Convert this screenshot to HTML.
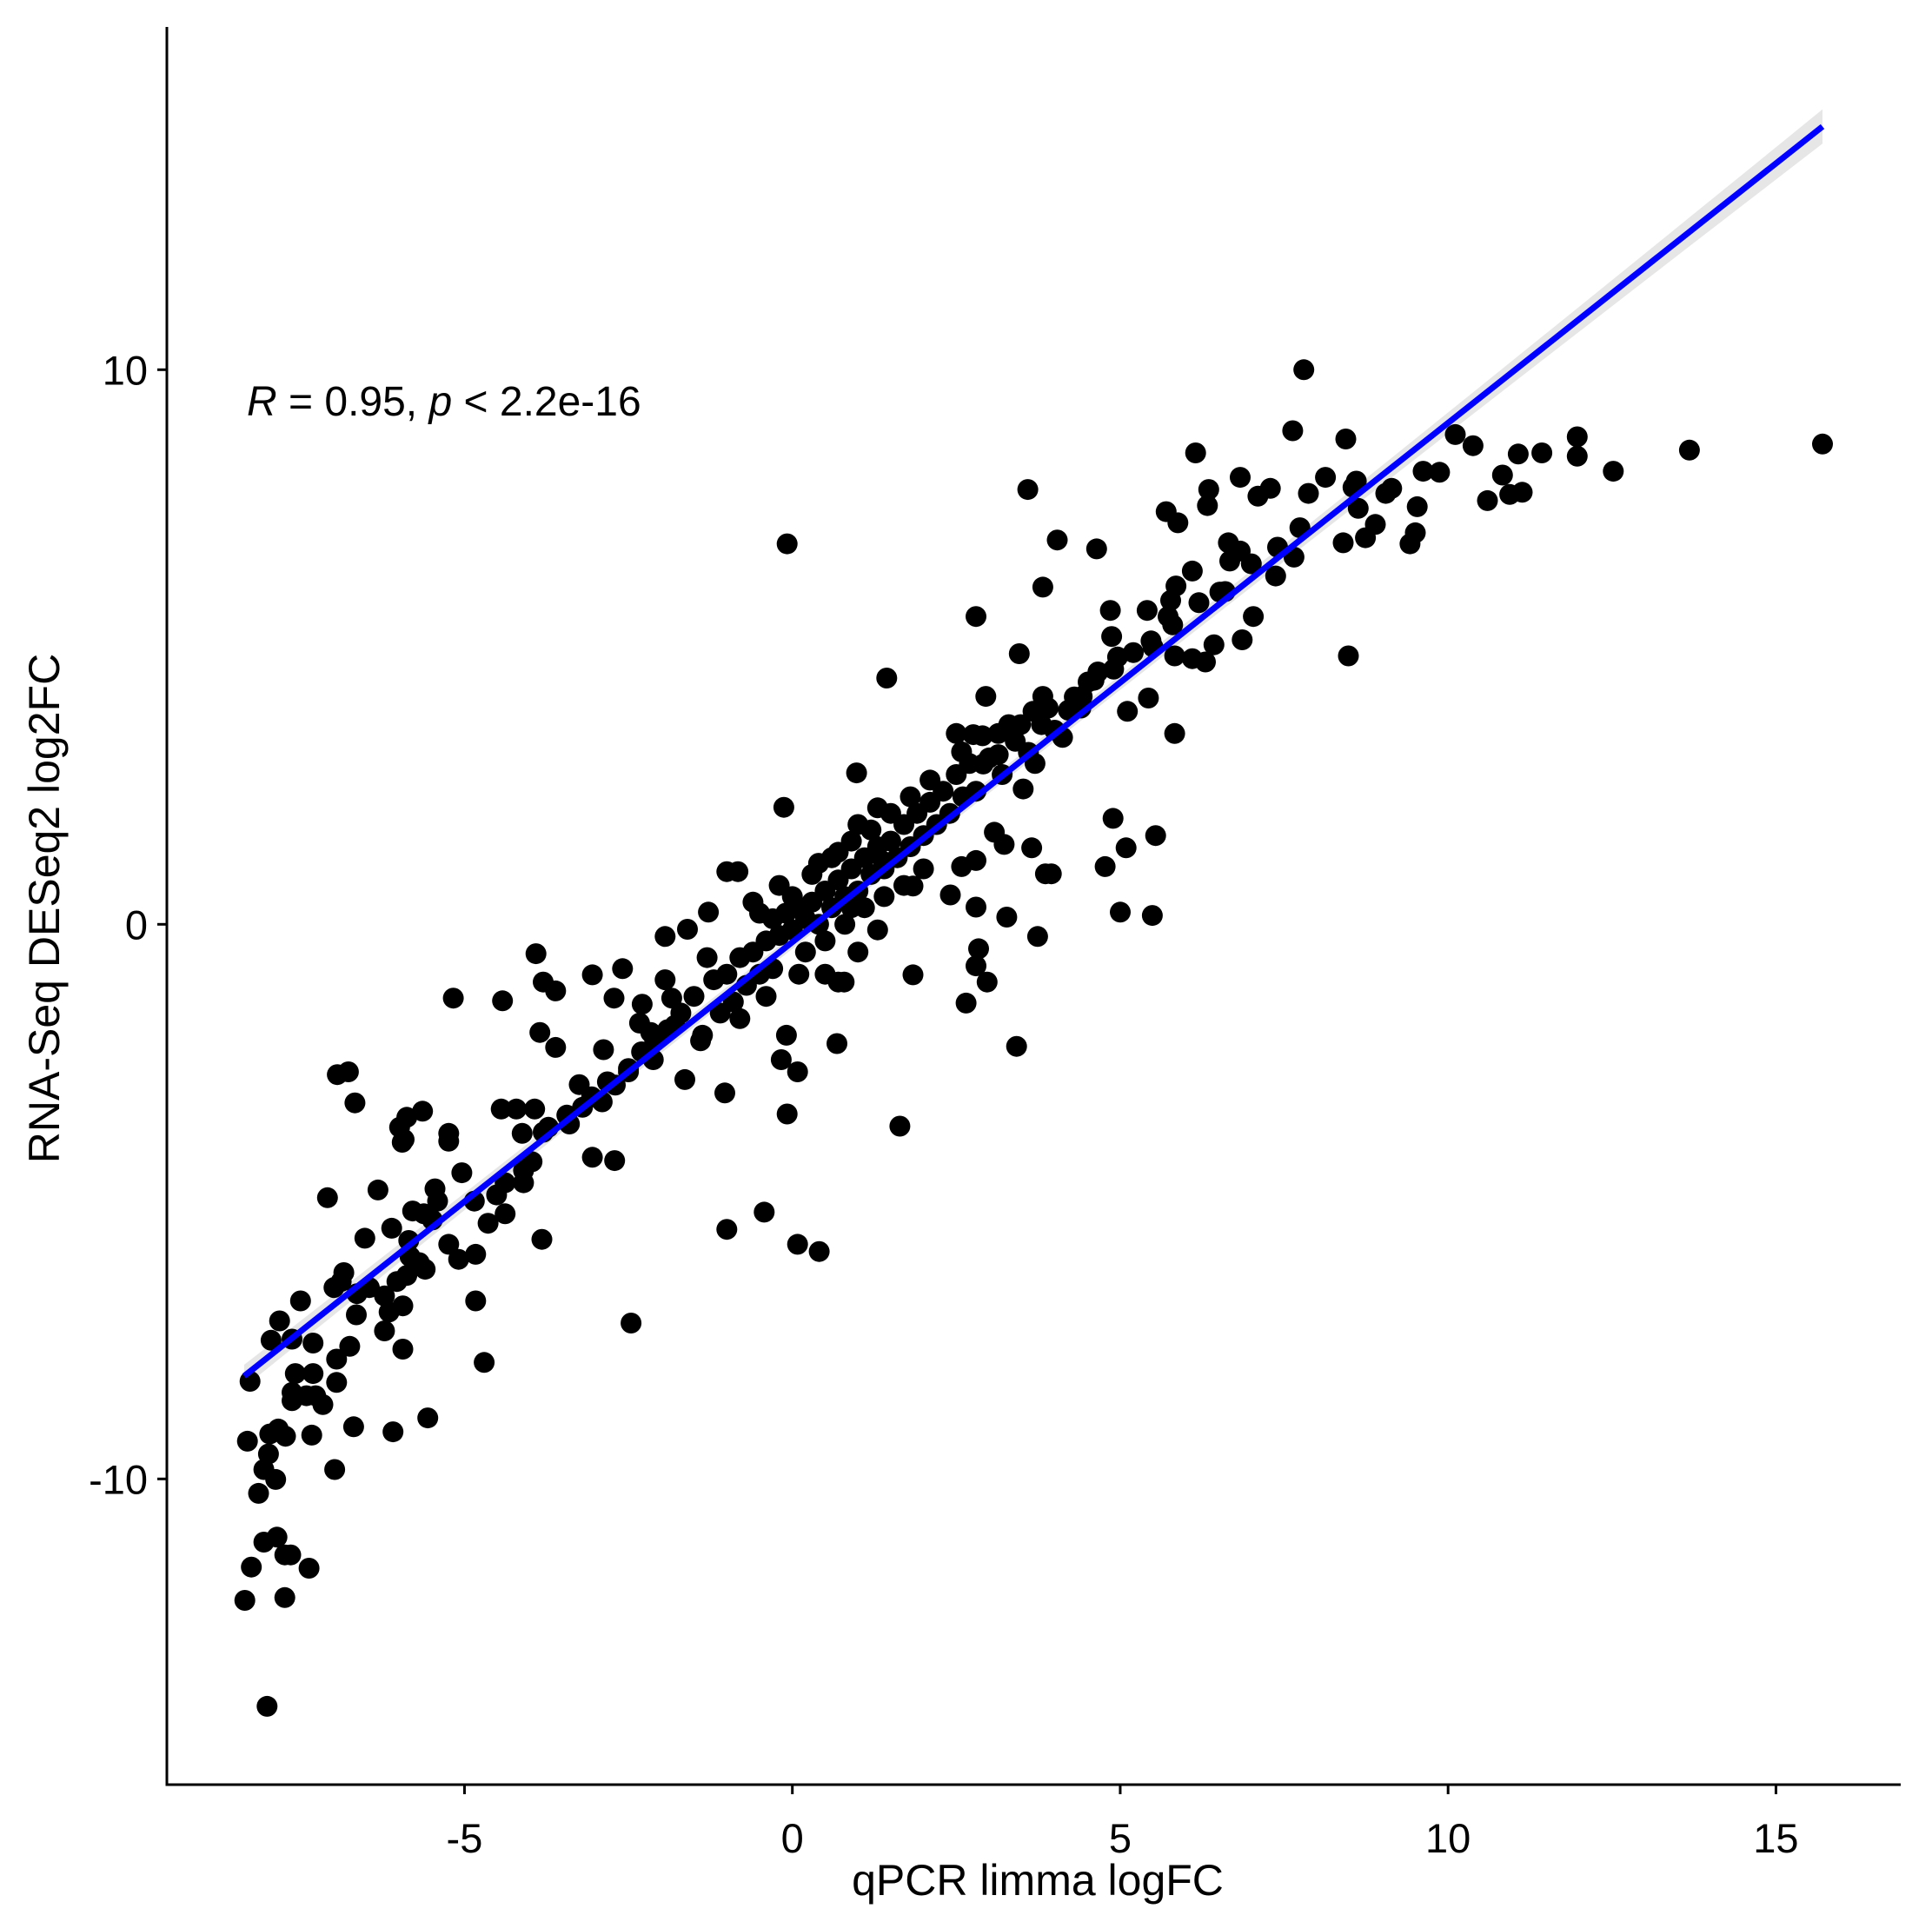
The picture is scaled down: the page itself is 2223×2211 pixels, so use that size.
<!DOCTYPE html>
<html><head><meta charset="utf-8"><style>
html,body{margin:0;padding:0;background:#fff;}
svg{display:block;font-family:"Liberation Sans",Arial,sans-serif;}
</style></head><body>
<svg id="chart" width="2223" height="2211" viewBox="0 0 2223 2211" xmlns="http://www.w3.org/2000/svg">
<rect x="0" y="0" width="2223" height="2211" fill="#fff"/>
<g id="band"></g>
<g id="points"></g>
<g id="fit"></g>
<g id="axes"></g>
<text x="284" y="478" font-size="48"><tspan font-style="italic">R</tspan> = 0.95, <tspan font-style="italic">p</tspan> &lt; 2.2e-16</text>
<text x="1194" y="2180" font-size="50" text-anchor="middle">qPCR limma logFC</text>
<text x="0" y="0" font-size="50" text-anchor="middle" transform="translate(68,1045) rotate(-90)">RNA-Seq DESeq2 log2FC</text>
</svg>
<script>
const xTicks = [-5, 0, 5, 10, 15];
const yTicks = [-10, 0, 10];
const xTickLabels = ["-5", "0", "5", "10", "15"];
const yTickLabels = ["-10", "0", "10"];
const fitSlope = 0.936;
const fitIntercept = -0.32;
const fitRange = [-8.36, 15.71];
const px = [7.8,7.63,6.15,8.44,10.11,10.38,11.97,11.97,13.68,15.71,12.52,11.43,11.07,10.83,11.13,10.94,10.6,9.62,9.87,9.53,9.14,9.05,8.55,8.6,8.13,7.87,7.29,7.1,6.83,6.35,6.33,5.7,5.88,3.59,-0.08,4.04,4.64,3.82,8.63,8.89,8.74,8.4,9.5,9.42,7.74,7.65,6.83,6.65,6.67,7.37,7.03,8.48,6.1,5.85,6.52,6.86,6.43,6.1,6.3,5.77,5.73,5.41,4.85,4.87,5.47,5.83,4.96,5.43,5.11,5.83,4.51,4.66,4.42,4.21,4.12,3.82,3.67,3.46,2.8,2.95,1.44,3.48,3.52,3.14,2.76,2.5,2.91,3.14,2.58,0.98,-0.13,4.89,5.54,5.09,4.77,3.65,3.95,3.86,5.0,5.49,3.74,3.27,2.8,2.58,2.8,3.23,3.08,2.41,1.84,1.39,2.84,2.8,2.97,2.65,3.42,1.84,0.79,0.7,0.68,1.64,-0.09,-0.17,0.08,-0.08,-1.03,-1.0,-0.43,0.08,0.41,-2.46,-3.82,-4.7,-4.83,-5.17,-4.42,-3.91,-3.8,-3.61,-3.05,-2.59,-2.72,-3.85,-3.61,-2.88,-3.05,-2.71,-2.29,-1.94,-1.84,-1.94,-1.6,-1.28,-0.83,-2.33,-2.16,-1.79,-1.37,-1.64,-2.12,-2.5,-2.82,-3.25,-3.06,-3.44,-3.72,-3.93,-4.21,-4.44,-4.12,-3.8,-3.97,-4.1,-4.1,-4.38,-4.51,-4.38,-4.64,-4.85,-5.04,-5.24,-5.24,-5.64,-5.88,-5.99,-5.95,-5.92,-5.45,-5.41,-5.49,-5.62,-5.79,-6.11,-5.85,-5.83,-5.6,-5.69,-5.88,-6.03,-5.24,-5.09,-4.83,-6.32,-6.52,-6.67,-6.77,-6.94,-7.09,-6.84,-6.88,-6.99,-6.64,-6.45,-6.22,-6.15,-5.94,-5.94,-6.22,-6.65,-6.75,-6.95,-7.5,-7.82,-7.95,-7.63,-7.31,-6.95,-7.31,-7.58,-7.63,-7.63,-7.41,-7.16,-7.27,-8.27,-7.84,-7.97,-7.73,-7.33,-8.31,-7.99,-8.06,-8.14,-7.88,-6.98,-6.69,-6.09,-5.56,-8.06,-7.86,-7.74,-7.65,-7.37,-8.25,-8.35,-7.74,-8.01,-1.0,
-1.5,-1.2,-1.0,-0.8,-0.6,-0.5,-0.4,-0.3,-0.2,-0.1,0,0.1,0.2,0.3,0.4,0.5,0.6,0.7,0.8,0.9,1.0,1.1,1.2,1.3,1.4,1.5,1.6,1.7,1.8,1.9,2.0,2.1,2.2,2.3,2.4,2.5,2.6,2.7,2.8,3.0,3.2,3.4,3.6,3.8,4.0,-0.7,-0.9,-1.1,-1.3,-0.5,0.0,0.3,0.6,0.9,1.2,1.5,1.8,2.1,0.2,0.5,0.8,1.1,1.4,1.7,2.0,-0.3,0.1,-0.6,-0.2,0.4,0.7,1.0,1.3,-1.7,-1.9,-2.1,-2.3,-2.5,-2.7,-2.9,-3.2,-3.4,-1.4,-0.8,-0.4,0.5,1.0,1.3,0.9,4.3,4.6,4.9,5.2,5.5,5.8,6.2,6.6,7.0,7.4,3.9,3.3,2.9,3.7,4.4];
const py = [10.0,8.9,8.5,8.75,8.83,8.63,8.79,8.44,8.55,8.66,8.17,8.5,8.48,8.1,7.79,7.75,7.64,8.17,8.15,7.53,7.86,7.77,7.88,7.99,8.06,7.77,7.86,7.72,8.06,7.84,7.55,7.44,7.24,7.84,6.86,6.93,6.77,6.08,7.5,7.21,6.97,6.88,7.06,6.86,7.15,6.62,6.73,6.88,6.55,6.28,5.55,4.84,6.37,6.1,5.99,5.13,5.04,4.79,4.73,5.84,5.55,5.66,5.66,5.19,5.11,4.84,4.82,4.08,3.84,3.44,4.37,4.55,4.11,3.86,3.37,4.11,3.84,4.88,5.55,4.11,4.44,3.6,2.44,3.44,3.42,3.44,2.89,3.06,3.11,2.73,2.11,1.91,1.6,1.38,1.04,1.38,0.91,0.91,0.22,0.16,-0.22,0.13,0.31,1.04,1.15,1.44,1.66,0.53,0.69,1.13,-0.44,-0.75,-1.04,-1.42,-2.2,-0.91,-1.04,-1.04,-2.15,-3.64,-2.0,-2.44,-2.66,-3.42,-3.04,-5.5,-5.19,-5.77,-5.9,-7.19,-5.68,-7.9,-6.79,-1.33,-1.38,-0.53,-1.04,-1.2,-0.91,-0.8,-1.33,-1.95,-2.22,-2.26,-4.2,-4.26,-1.44,-1.0,-1.33,-0.22,-0.09,0.22,0.95,-1.78,-1.95,-1.82,-2.0,-2.8,-2.44,-2.66,-2.84,-2.89,-3.11,-3.44,-3.66,-3.33,-3.33,-3.33,-3.77,-3.75,-4.28,-4.44,-4.66,-4.66,-4.88,-5.22,-5.39,-4.99,-4.48,-3.77,-3.91,-3.37,-3.48,-3.66,-3.93,-3.88,-4.77,-4.99,-5.33,-5.22,-5.17,-5.48,-5.7,-5.99,-6.22,-6.1,-6.33,-6.44,-5.77,-6.04,-5.95,-4.79,-5.66,-3.22,-2.66,-2.71,-4.93,-6.28,-6.44,-6.55,-6.66,-6.55,-6.7,-6.99,-6.88,-7.66,-7.33,-7.04,-7.61,-7.84,-6.79,-7.15,-7.5,-7.48,-7.55,-8.26,-8.1,-8.1,-8.44,-8.59,-8.5,-8.66,-8.5,-8.24,-9.1,-9.19,-9.23,-9.21,-9.32,-9.55,-9.83,-10.26,-10.01,-9.83,-9.06,-9.15,-8.9,-11.14,-11.05,-11.37,-11.37,-11.61,-11.59,-12.19,-12.14,-14.1,0.95,
-1.3,-1.0,-0.9,-0.6,-0.5,-0.9,-0.3,0.1,-0.2,0.2,-0.1,0.3,0.1,0.4,0.0,0.6,0.3,0.8,0.5,1.0,0.6,1.2,0.9,1.4,1.0,1.5,1.2,1.8,1.4,2.0,1.6,2.2,1.8,2.4,2.0,2.7,2.3,2.9,2.4,3.0,2.7,3.3,3.1,3.6,3.5,-1.1,-1.4,-1.6,-0.6,0.2,0.5,0.9,1.2,1.5,1.7,2.0,2.3,2.6,-0.5,-0.3,0.0,0.3,0.5,0.7,1.0,-0.8,-0.9,0.4,0.7,1.1,1.3,1.8,2.1,-1.6,-1.9,-2.1,-2.3,-2.6,-2.9,-3.2,-3.3,-3.6,-2.1,-1.7,-1.3,-0.9,-0.5,-0.1,0.3,4.1,4.4,4.6,4.9,5.0,5.4,5.8,6.0,6.5,6.8,3.9,3.6,3.4,2.9,3.9];

const X0 = 911.7, XS = 75.45, Y0 = 1063.3, YS = 63.8;
const AX_B = 2053, AX_L = 192, AX_R = 2187, AX_T = 31;
function sx(v){ return X0 + v * XS; }
function sy(v){ return Y0 - v * YS; }
const NS = "http://www.w3.org/2000/svg";
function mk(tag, attrs, parent){
  const e = document.createElementNS(NS, tag);
  for (const k in attrs) e.setAttribute(k, attrs[k]);
  parent.appendChild(e);
  return e;
}
const band = document.getElementById('band');
const n = 40, up = [], lo = [];
for (let i = 0; i <= n; i++) {
  const x = fitRange[0] + (fitRange[1] - fitRange[0]) * i / n;
  const xm = 1.2;
  const hw = 0.12 + 0.0009 * (x - xm) * (x - xm);
  const y = fitSlope * x + fitIntercept;
  up.push(sx(x).toFixed(1) + ',' + sy(y + hw).toFixed(1));
  lo.unshift(sx(x).toFixed(1) + ',' + sy(y - hw).toFixed(1));
}
const bp = mk('polygon', {points: up.concat(lo).join(' '), fill: '#e6e6e6'}, band);


const pg = document.getElementById('points');
for (let i = 0; i < px.length; i++) {
  const c = mk('circle', {cx: sx(px[i]).toFixed(1), cy: sy(py[i]).toFixed(1), r: 12, fill: '#000'}, pg);
  
  
}
const fg = document.getElementById('fit');
const fl = mk('line', {x1: sx(fitRange[0]), y1: sy(fitSlope*fitRange[0]+fitIntercept), x2: sx(fitRange[1]), y2: sy(fitSlope*fitRange[1]+fitIntercept), stroke: '#0000ff', 'stroke-width': 7}, fg);


const ag = document.getElementById('axes');
const ya = mk('line', {x1: AX_L, y1: AX_T, x2: AX_L, y2: AX_B + 1.5, stroke: '#000', 'stroke-width': 3}, ag);


const xa = mk('line', {x1: AX_L - 1.5, y1: AX_B, x2: AX_R, y2: AX_B, stroke: '#000', 'stroke-width': 3}, ag);


for (let i = 0; i < xTicks.length; i++) {
  const x = sx(xTicks[i]);
  const t = mk('line', {x1: x, y1: AX_B, x2: x, y2: AX_B + 11, stroke: '#000', 'stroke-width': 3}, ag);
  
  
  const l = mk('text', {x: x, y: AX_B + 78, 'font-size': 47, 'text-anchor': 'middle', fill: '#000'}, ag);
  l.textContent = xTickLabels[i];
  
  
}
for (let i = 0; i < yTicks.length; i++) {
  const y = sy(yTicks[i]);
  const t = mk('line', {x1: AX_L - 11, y1: y, x2: AX_L, y2: y, stroke: '#000', 'stroke-width': 3}, ag);
  
  
  const l = mk('text', {x: 170, y: y + 17, 'font-size': 47, 'text-anchor': 'end', fill: '#000'}, ag);
  l.textContent = yTickLabels[i];
  
  
}
</script>
</body></html>
